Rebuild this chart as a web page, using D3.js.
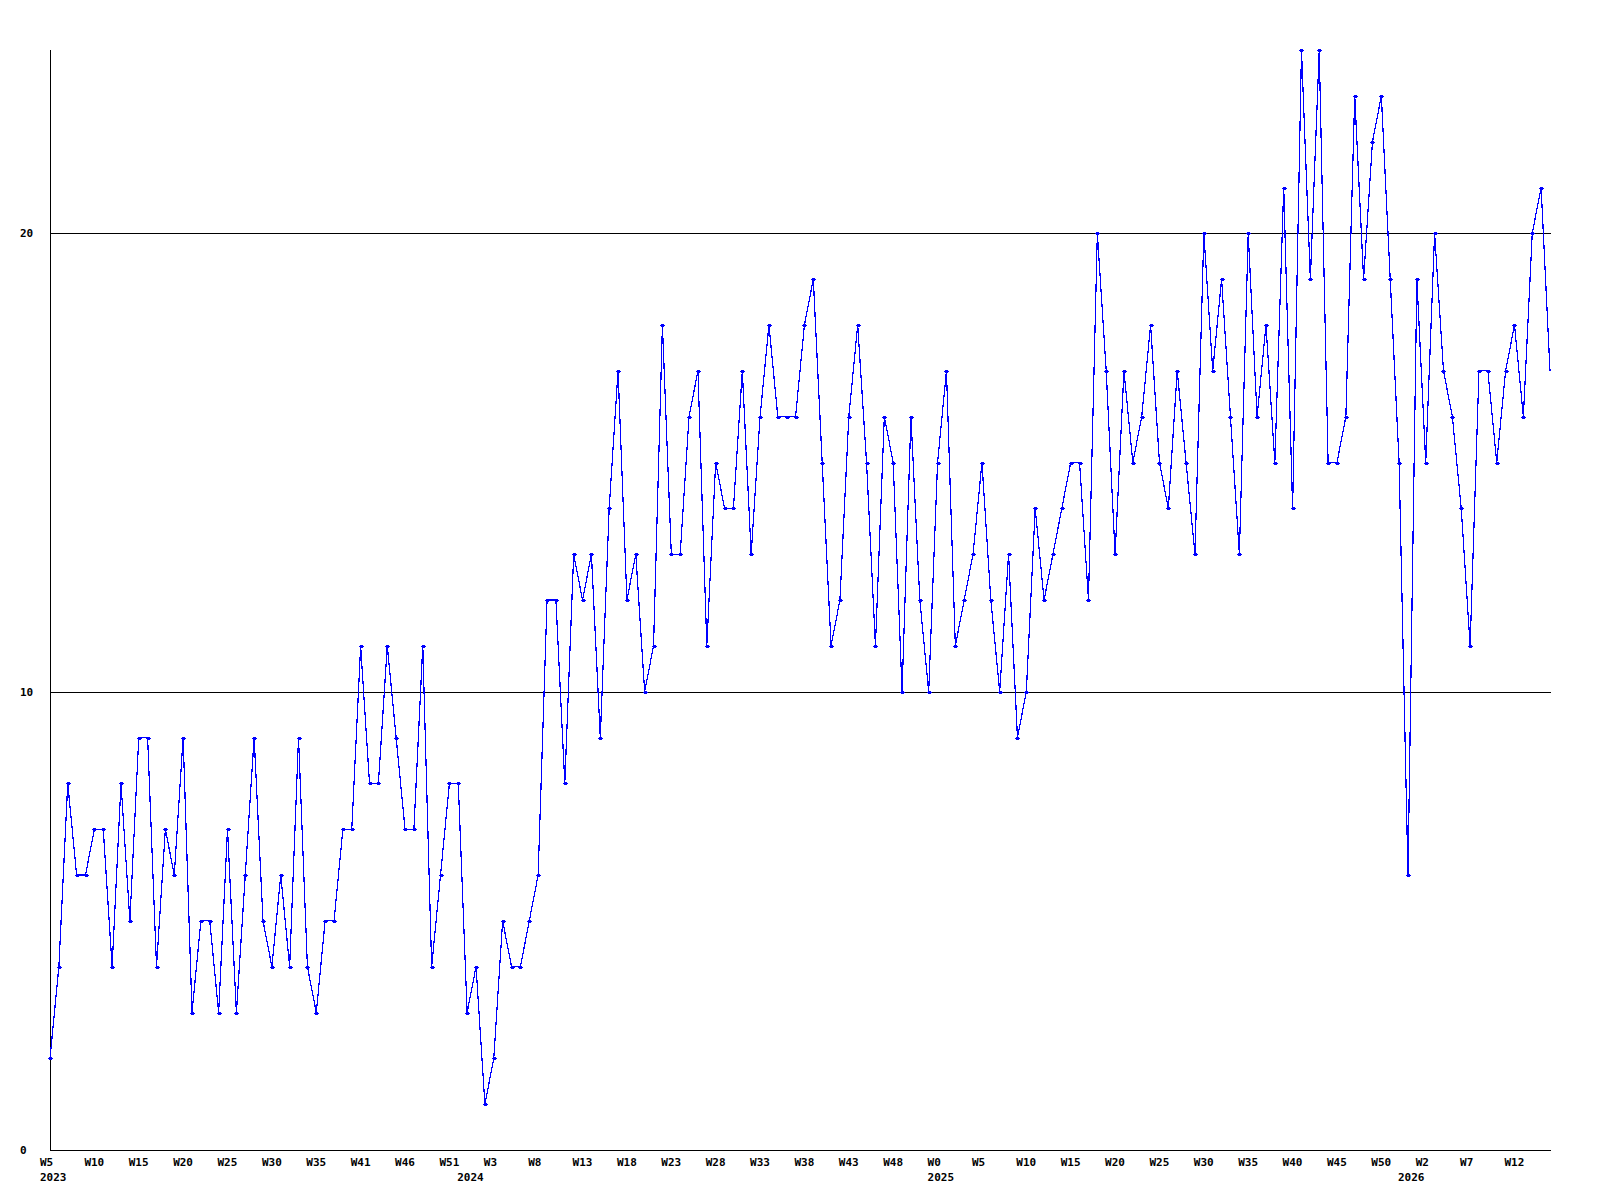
<!DOCTYPE html>
<html>
<head>
<meta charset="utf-8">
<script src="https://cdn.jsdelivr.net/npm/d3@7"></script>
<style>
  html, body { margin: 0; padding: 0; background: #fff; }
  svg { display: block; }
  text { font-family: "DejaVu Sans Mono", "Liberation Mono", monospace; font-weight: bold; font-size: 11px; fill: #000; }
</style>
</head>
<body>
<svg id="chart" width="1600" height="1200"></svg>
<script>
// ---- data ----
const values = [
  2,4,8,6,6,7,7,4,8,5,9,9,4,7,6,9,
  3,5,5,3,7,3,6,9,5,4,6,4,9,4,3,5,
  5,7,7,11,8,8,11,9,7,7,11,4,6,8,8,3,
  4,1,2,5,4,4,5,6,12,12,8,13,12,13,9,14,
  17,12,13,10,11,18,13,13,16,17,11,15,14,14,17,13,
  16,18,16,16,16,18,19,15,11,12,16,18,15,11,16,
  15,10,16,12,10,15,17,11,12,13,15,12,10,13,9,10,
  14,12,13,14,15,15,12,20,17,13,17,15,16,18,15,14,
  17,15,13,20,17,19,16,13,20,16,18,15,21,14,24,19,
  24,15,15,16,23,19,22,23,19,15,6,19,15,20,17,
  16,14,11,17,17,15,17,18,16,20,21,17
];
const weekLabels = ["W5","W10","W15","W20","W25","W30","W35","W41","W46","W51",
  "W3","W8","W13","W18","W23","W28","W33","W38","W43","W48",
  "W0","W5","W10","W15","W20","W25","W30","W35","W40","W45","W50",
  "W2","W7","W12"];
const weekLabelStep = 5;
const yearLabels = ["2023","2024","2025","2026"];
const yearIndex = [0,47,100,153];
const yTicks = [0,10,20];
const yMax = 24;

// ---- layout ----
const plotL = 50, plotR = 1550, plotT = 50, plotB = 1150;
const svg = d3.select("#chart");

const x = d3.scaleLinear().domain([0, values.length - 1]).range([plotL, plotR]);
const y = d3.scaleLinear().domain([0, yMax]).range([plotB, plotT]);

// grid lines
svg.append("g").selectAll("line").data(yTicks.filter(t => t > 0)).join("line")
  .attr("x1", plotL).attr("x2", plotR + 1)
  .attr("y1", d => Math.round(y(d)) + 0.5).attr("y2", d => Math.round(y(d)) + 0.5)
  .attr("stroke", "#000").attr("stroke-width", 1).attr("shape-rendering", "crispEdges");

// axes lines
svg.append("line").attr("x1", plotL + 0.5).attr("x2", plotL + 0.5).attr("y1", plotT).attr("y2", plotB)
  .attr("stroke", "#000").attr("shape-rendering", "crispEdges");
svg.append("line").attr("x1", plotL).attr("x2", plotR + 1).attr("y1", plotB + 0.5).attr("y2", plotB + 0.5)
  .attr("stroke", "#000").attr("shape-rendering", "crispEdges");

// y labels
svg.append("g").selectAll("text").data(yTicks).join("text")
  .attr("x", 20).attr("y", d => y(d) + 4)
  .text(d => d);

// x week labels
svg.append("g").selectAll("text").data(weekLabels).join("text")
  .attr("x", (d, i) => x(i * weekLabelStep) - 10)
  .attr("y", plotB + 16)
  .text(d => d);

// year labels
svg.append("g").selectAll("text").data(yearLabels).join("text")
  .attr("x", (d, i) => x(yearIndex[i]) - 10)
  .attr("y", plotB + 31)
  .text(d => d);

// data line
const line = d3.line().x((d, i) => x(i)).y(d => y(d));
svg.append("path").datum(values)
  .attr("d", line)
  .attr("fill", "none")
  .attr("stroke", "#0000ff")
  .attr("stroke-width", 1.2)
  .attr("shape-rendering", "crispEdges");

// markers
const markers = svg.append("g").attr("fill", "#0000ff").attr("shape-rendering", "crispEdges");
values.forEach((v, i) => {
  if (i === values.length - 1) return;
  const cx = Math.round(x(i)), cy = Math.round(y(v));
  markers.append("rect").attr("x", cx - 2).attr("y", cy).attr("width", 5).attr("height", 1);
  markers.append("rect").attr("x", cx - 1).attr("y", cy - 1).attr("width", 3).attr("height", 3);
});
</script>
</body>
</html>
